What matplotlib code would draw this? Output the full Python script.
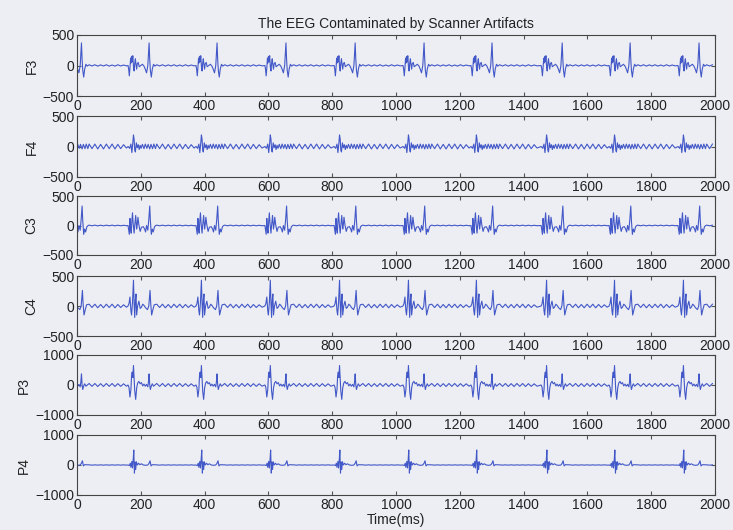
import numpy as np
import matplotlib.pyplot as plt

plt.rcParams['font.family'] = ['Liberation Sans', 'DejaVu Sans']

# Channel names and y ranges
channels = ['F3', 'F4', 'C3', 'C4', 'P3', 'P4']
ylims = [500, 500, 500, 500, 1000, 1000]

# Scanner artifact onsets (ms)
onsets = [-52, 160, 373, 589, 806, 1022, 1235, 1455, 1668, 1884]

# Artifact shape per channel: offsets from onset (ms) and amplitudes
F3_t = [0, 2, 4, 6, 8, 9, 11, 13, 15, 17, 19, 21, 23, 25, 27, 29, 32, 35, 40, 45,
        50, 54, 58, 62, 64, 66, 68, 70, 73, 76, 80, 84]
F3_v = [0, -60, -170, -40, 120, 40, 150, 60, 160, -20, -90, 40, 110, 10, -60, 30, 50, -20, 0, 20,
        -10, -60, -120, 0, 200, 370, 100, -80, -190, -60, 20, -10]

F4_t = [0, 5, 9, 12, 15, 17, 19, 21, 23, 26, 29, 32, 35, 38, 41, 45, 50, 54, 59,
        63, 68, 72, 77, 81, 86]
F4_v = [0, -30, 40, -100, 60, 190, 120, -60, -90, 60, -20, 30, -50, 20, -30, 35, -35, 40, -30,
        35, -40, 35, -35, 40, -35]

C3_t = [0, 2, 4, 6, 8, 10, 12, 14, 16, 19, 21, 24, 27, 29, 31, 34, 38, 42, 48, 52,
        55, 58, 62, 65, 68, 70, 73, 76, 79, 83, 87]
C3_v = [0, -80, -150, 120, -60, -130, 80, 215, 40, -130, 0, 170, -60, 20, 140, 10, -100, -30, -20, -60,
        -110, 0, -80, 100, 330, 80, -150, -60, -110, -20, 0]

C4_t = [0, 3, 6, 9, 11, 14, 17, 19, 21, 23, 25, 27, 30, 34, 38, 42, 46, 50, 55, 61,
        65, 69, 71, 74, 78, 82]
C4_v = [0, 40, 150, -80, -150, 60, 430, 50, -190, 100, 200, -150, 0, 80, -40, -20, 30, 10, -30, -60,
        0, 260, 50, -150, -60, 20]

P3_t = [0, 3, 6, 9, 11, 13, 15, 17, 19, 21, 24, 27, 30, 34, 38, 42, 46, 50, 54, 58,
        62, 64, 66, 68, 70, 73, 76, 80]
P3_v = [0, -80, -400, -150, 300, 430, 250, 650, 200, -200, -480, -100, 60, 120, 40, 80, -30, 30, -40, 20,
        -60, 100, 370, 0, -150, -30, 40, -40]

P4_t = [0, 4, 7, 9, 12, 14, 16, 18, 20, 22, 24, 26, 29, 33, 37, 42, 48, 55, 62, 66,
        69, 72, 76]
P4_v = [0, -20, 60, -80, 120, -100, 150, 500, -270, 100, -150, 110, 0, 60, 10, 40, 0, -10, 0, 60,
        140, -30, 10]

# Background ripple between artifacts (offsets from onset, ms)
rip_t = [90, 99, 108, 117, 126, 135, 144, 153, 162, 171, 180, 189, 198, 207]
F3_r = [12, -8, 12, -10, 10, -8, 12, -10, 8, -10, 12, -8, 8, -6]
F4_r = [40, -35, 40, -40, 35, -40, 40, -35, 40, -40, 35, -35, 30, -25]
C3_r = [6, -5, 6, -6, 5, -6, 6, -5, 6, -6, 5, -5, 4, -4]
C4_r = [30, -25, 30, -30, 25, -30, 30, -25, 30, -30, 25, -25, 20, -20]
P3_r = [50, -45, 50, -50, 45, -50, 50, -45, 50, -50, 45, -45, 40, -40]
P4_r = [5, -5, 5, -5, 5, -5, 5, -5, 5, -5, 5, -5, 5, -5]

shapes = {
    'F3': (F3_t, F3_v, F3_r), 'F4': (F4_t, F4_v, F4_r), 'C3': (C3_t, C3_v, C3_r),
    'C4': (C4_t, C4_v, C4_r), 'P3': (P3_t, P3_v, P3_r), 'P4': (P4_t, P4_v, P4_r),
}


def build(name):
    bt, bv, rv = shapes[name]
    t_all = list(bt) + list(rip_t)
    v_all = list(bv) + list(rv)
    xs, ys = [], []
    for i, on in enumerate(onsets):
        nxt = onsets[i + 1] if i + 1 < len(onsets) else 2001
        for o, v in zip(t_all, v_all):
            t = on + o
            if 0 <= t < nxt and t <= 2000:
                xs.append(t)
                ys.append(v)
    return np.array(xs), np.array(ys)


bg = '#eceef3'
fig = plt.figure(figsize=(7.33, 5.30), dpi=100, facecolor=bg)

tops = [35, 116, 196, 276, 355, 435]
bots = [96, 177, 255, 336, 415, 495]
left, right = 77, 715
W, H = 733, 530

for k, name in enumerate(channels):
    ax = fig.add_axes([left / W, 1 - bots[k] / H, (right - left) / W, (bots[k] - tops[k]) / H])
    ax.set_facecolor(bg)
    x, y = build(name)
    ax.plot(x, y, color='#4257c8', lw=0.8)
    ax.set_xlim(0, 2000)
    lim = ylims[k]
    ax.set_ylim(-lim, lim)
    ax.set_yticks([-lim, 0, lim])
    ax.set_xticks(np.arange(0, 2001, 200))
    ax.tick_params(direction='in', top=True, right=True, labelsize=10, length=3,
                   color='#555555', labelcolor='#222222', pad=2)
    for s in ax.spines.values():
        s.set_color('#444444')
        s.set_linewidth(0.8)
    ax.set_ylabel(name, fontsize=10, color='#222222', labelpad=3)
    if k == 0:
        ax.set_title('The EEG Contaminated by Scanner Artifacts', fontsize=10, color='#222222', pad=5)
    if k == len(channels) - 1:
        ax.set_xlabel('Time(ms)', fontsize=10, color='#222222', labelpad=1)

fig.savefig('out.png', dpi=100, facecolor=bg)
